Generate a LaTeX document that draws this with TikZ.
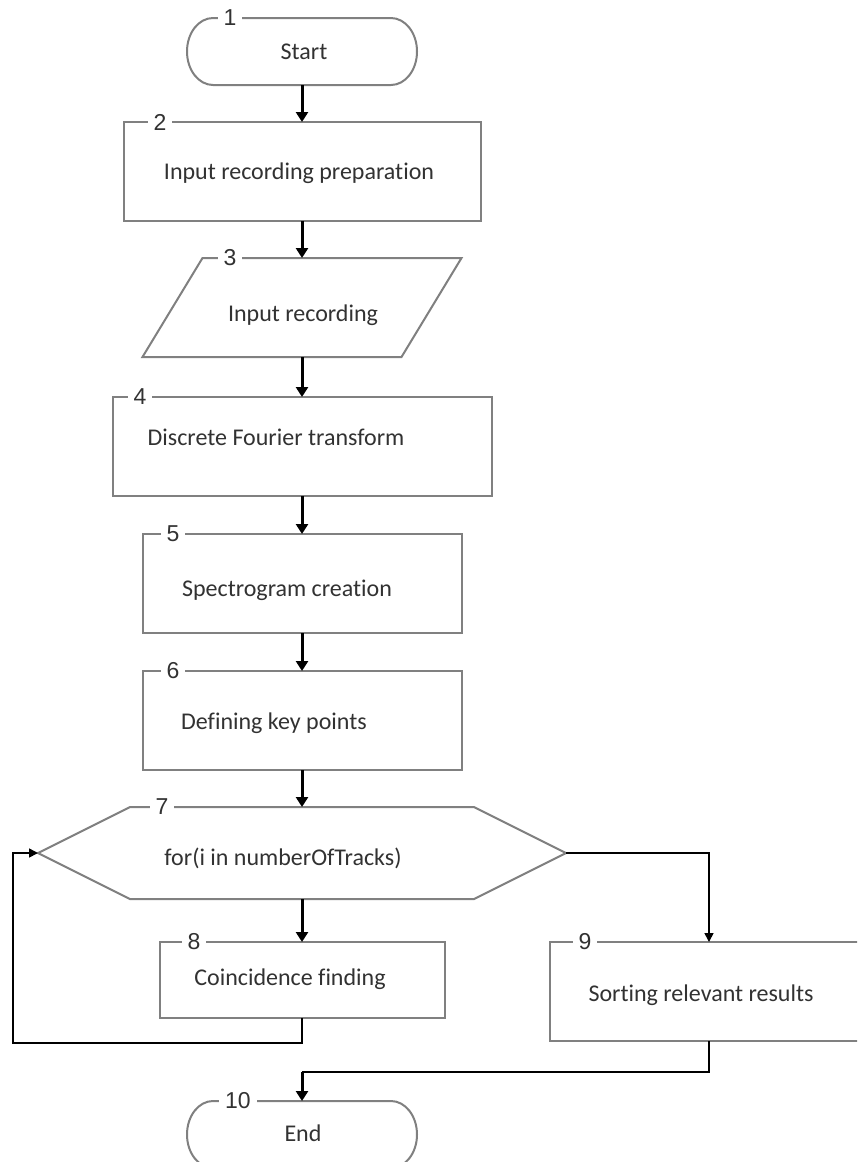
\documentclass[tikz,border=0pt]{standalone}
\usepackage{fontspec}
\setmainfont{Carlito}[RawFeature={-liga;-clig;-dlig}]
\newfontfamily\numfont{Liberation Sans}
\usetikzlibrary{calc,arrows.meta}
\definecolor{outline}{RGB}{128,128,128}
\definecolor{ink}{RGB}{50,50,50}

% outline of a terminator (stadium with elliptical ends) around a holder node
\newcommand\terminatoroutline[1]{%
  \draw[shapeline] ($(#1.north west)+(26,0)$) -- ($(#1.north east)+(-26,0)$)
    .. controls +(14.4,0) and +(0,-18.5) .. (#1.east)
    .. controls +(0,18.5) and +(14.4,0) .. ($(#1.south east)+(-26,0)$)
    -- ($(#1.south west)+(26,0)$)
    .. controls +(-14.4,0) and +(0,18.5) .. (#1.west)
    .. controls +(0,-18.5) and +(-14.4,0) .. cycle;}

\begin{document}
\begin{tikzpicture}[x=1pt,y=-1pt,
  shapeline/.style={draw=outline, line width=2pt, line join=miter},
  holder/.style={inner sep=0pt, outer sep=0pt},
  blockbox/.style={draw=outline, line width=2pt, inner sep=0pt, outer sep=0pt},
  caption/.style={text=ink, inner sep=0pt, font=\fontsize{24}{29}\selectfont},
  stepno/.style={fill=white, text=ink, inner xsep=6pt, inner ysep=1pt,
                 font=\numfont\fontsize{23}{27}\selectfont},
  flow/.style={draw=black, line width=3pt, -{Triangle[length=10pt,width=12pt]}},
  link/.style={draw=black, line width=1.6pt},
  tip/.style={-{Triangle[length=9pt,width=9pt]}}
]
\useasboundingbox (0,0) rectangle (857,1162);
\fill[white] (0,0) rectangle (857,1162);
\clip (0,0) rectangle (857,1162);

% shape holders and boxes
\node[holder, minimum width=230pt, minimum height=67pt] (n1) at (302,51.5) {};
\node[blockbox, minimum width=357pt, minimum height=99pt] (n2) at (302,171.5) {};
\node[holder, minimum width=319pt, minimum height=99pt] (n3) at (302,307.5) {};
\node[blockbox, minimum width=379pt, minimum height=99pt] (n4) at (302,446.5) {};
\node[blockbox, minimum width=319pt, minimum height=99pt] (n5) at (302,583.5) {};
\node[blockbox, minimum width=319pt, minimum height=99pt] (n6) at (302,720.5) {};
\node[holder, minimum width=528pt, minimum height=92pt] (n7) at (302,853) {};
\node[blockbox, minimum width=285pt, minimum height=76pt] (n8) at (302,980) {};
\node[blockbox, minimum width=318pt, minimum height=99pt] (n9) at (709,991.5) {};
\node[holder, minimum width=230pt, minimum height=67pt] (n10) at (302,1134.5) {};

% outlines of the non-rectangular shapes
\terminatoroutline{n1}
\terminatoroutline{n10}
\draw[shapeline] ($(n3.north west)+(60,0)$) -- (n3.north east)
  -- ($(n3.south east)+(-60,0)$) -- (n3.south west) -- cycle;
\draw[shapeline] (n7.west) -- ($(n7.north west)+(92,0)$) -- ($(n7.north east)+(-92,0)$)
  -- (n7.east) -- ($(n7.south east)+(-92,0)$) -- ($(n7.south west)+(92,0)$) -- cycle;

% texts
\node[caption] (t1) at (304,52) {Start};
\node[caption] (t2) at (299,173) {Input recording preparation};
\node[caption] (t3) at (303,315) {Input recording};
\node[caption] (t4) at (276,437) {Discrete Fourier transform};
\node[caption] (t5) at (287,590) {Spectrogram creation};
\node[caption] (t6) at (274,723) {Defining key points};
\node[caption] (t7) at (283,858) {for(i in numberOfTracks)};
\node[caption] (t8) at (290,979) {Coincidence finding};
\node[caption] (t9) at (701,995) {Sorting relevant results};
\node[caption] (t10) at (303,1133) {End};

% step numbers on the top edges
\node[stepno] (k1) at (230,18) {1};
\node[stepno] (k2) at (160,122) {2};
\node[stepno] (k3) at (230,258) {3};
\node[stepno] (k4) at (140,397) {4};
\node[stepno] (k5) at (173,534) {5};
\node[stepno] (k6) at (173,671) {6};
\node[stepno] (k7) at (162,807) {7};
\node[stepno] (k8) at (194,942) {8};
\node[stepno] (k9) at (585,942) {9};
\node[stepno] (k10) at (238,1101) {10};

% main flow
\draw[flow] (n1.south) -- (n2.north);
\draw[flow] (n2.south) -- (n3.north);
\draw[flow] (n3.south) -- (n4.north);
\draw[flow] (n4.south) -- (n5.north);
\draw[flow] (n5.south) -- (n6.north);
\draw[flow] (n6.south) -- (n7.north);
\draw[flow] (n7.south) -- (n8.north);

% loop exit to sorting
\draw[link, tip] (n7.east) -| (n9.north);

% loop back from coincidence finding
\coordinate (loopcorner) at (13,1043);
\draw[link, tip] (n8.south) |- (loopcorner) |- (n7.west);

% sorting to end
\coordinate (merge) at (302,1072);
\draw[link] (n9.south) |- (merge);
\draw[flow] (merge) -- (n10.north);
\end{tikzpicture}
\end{document}
